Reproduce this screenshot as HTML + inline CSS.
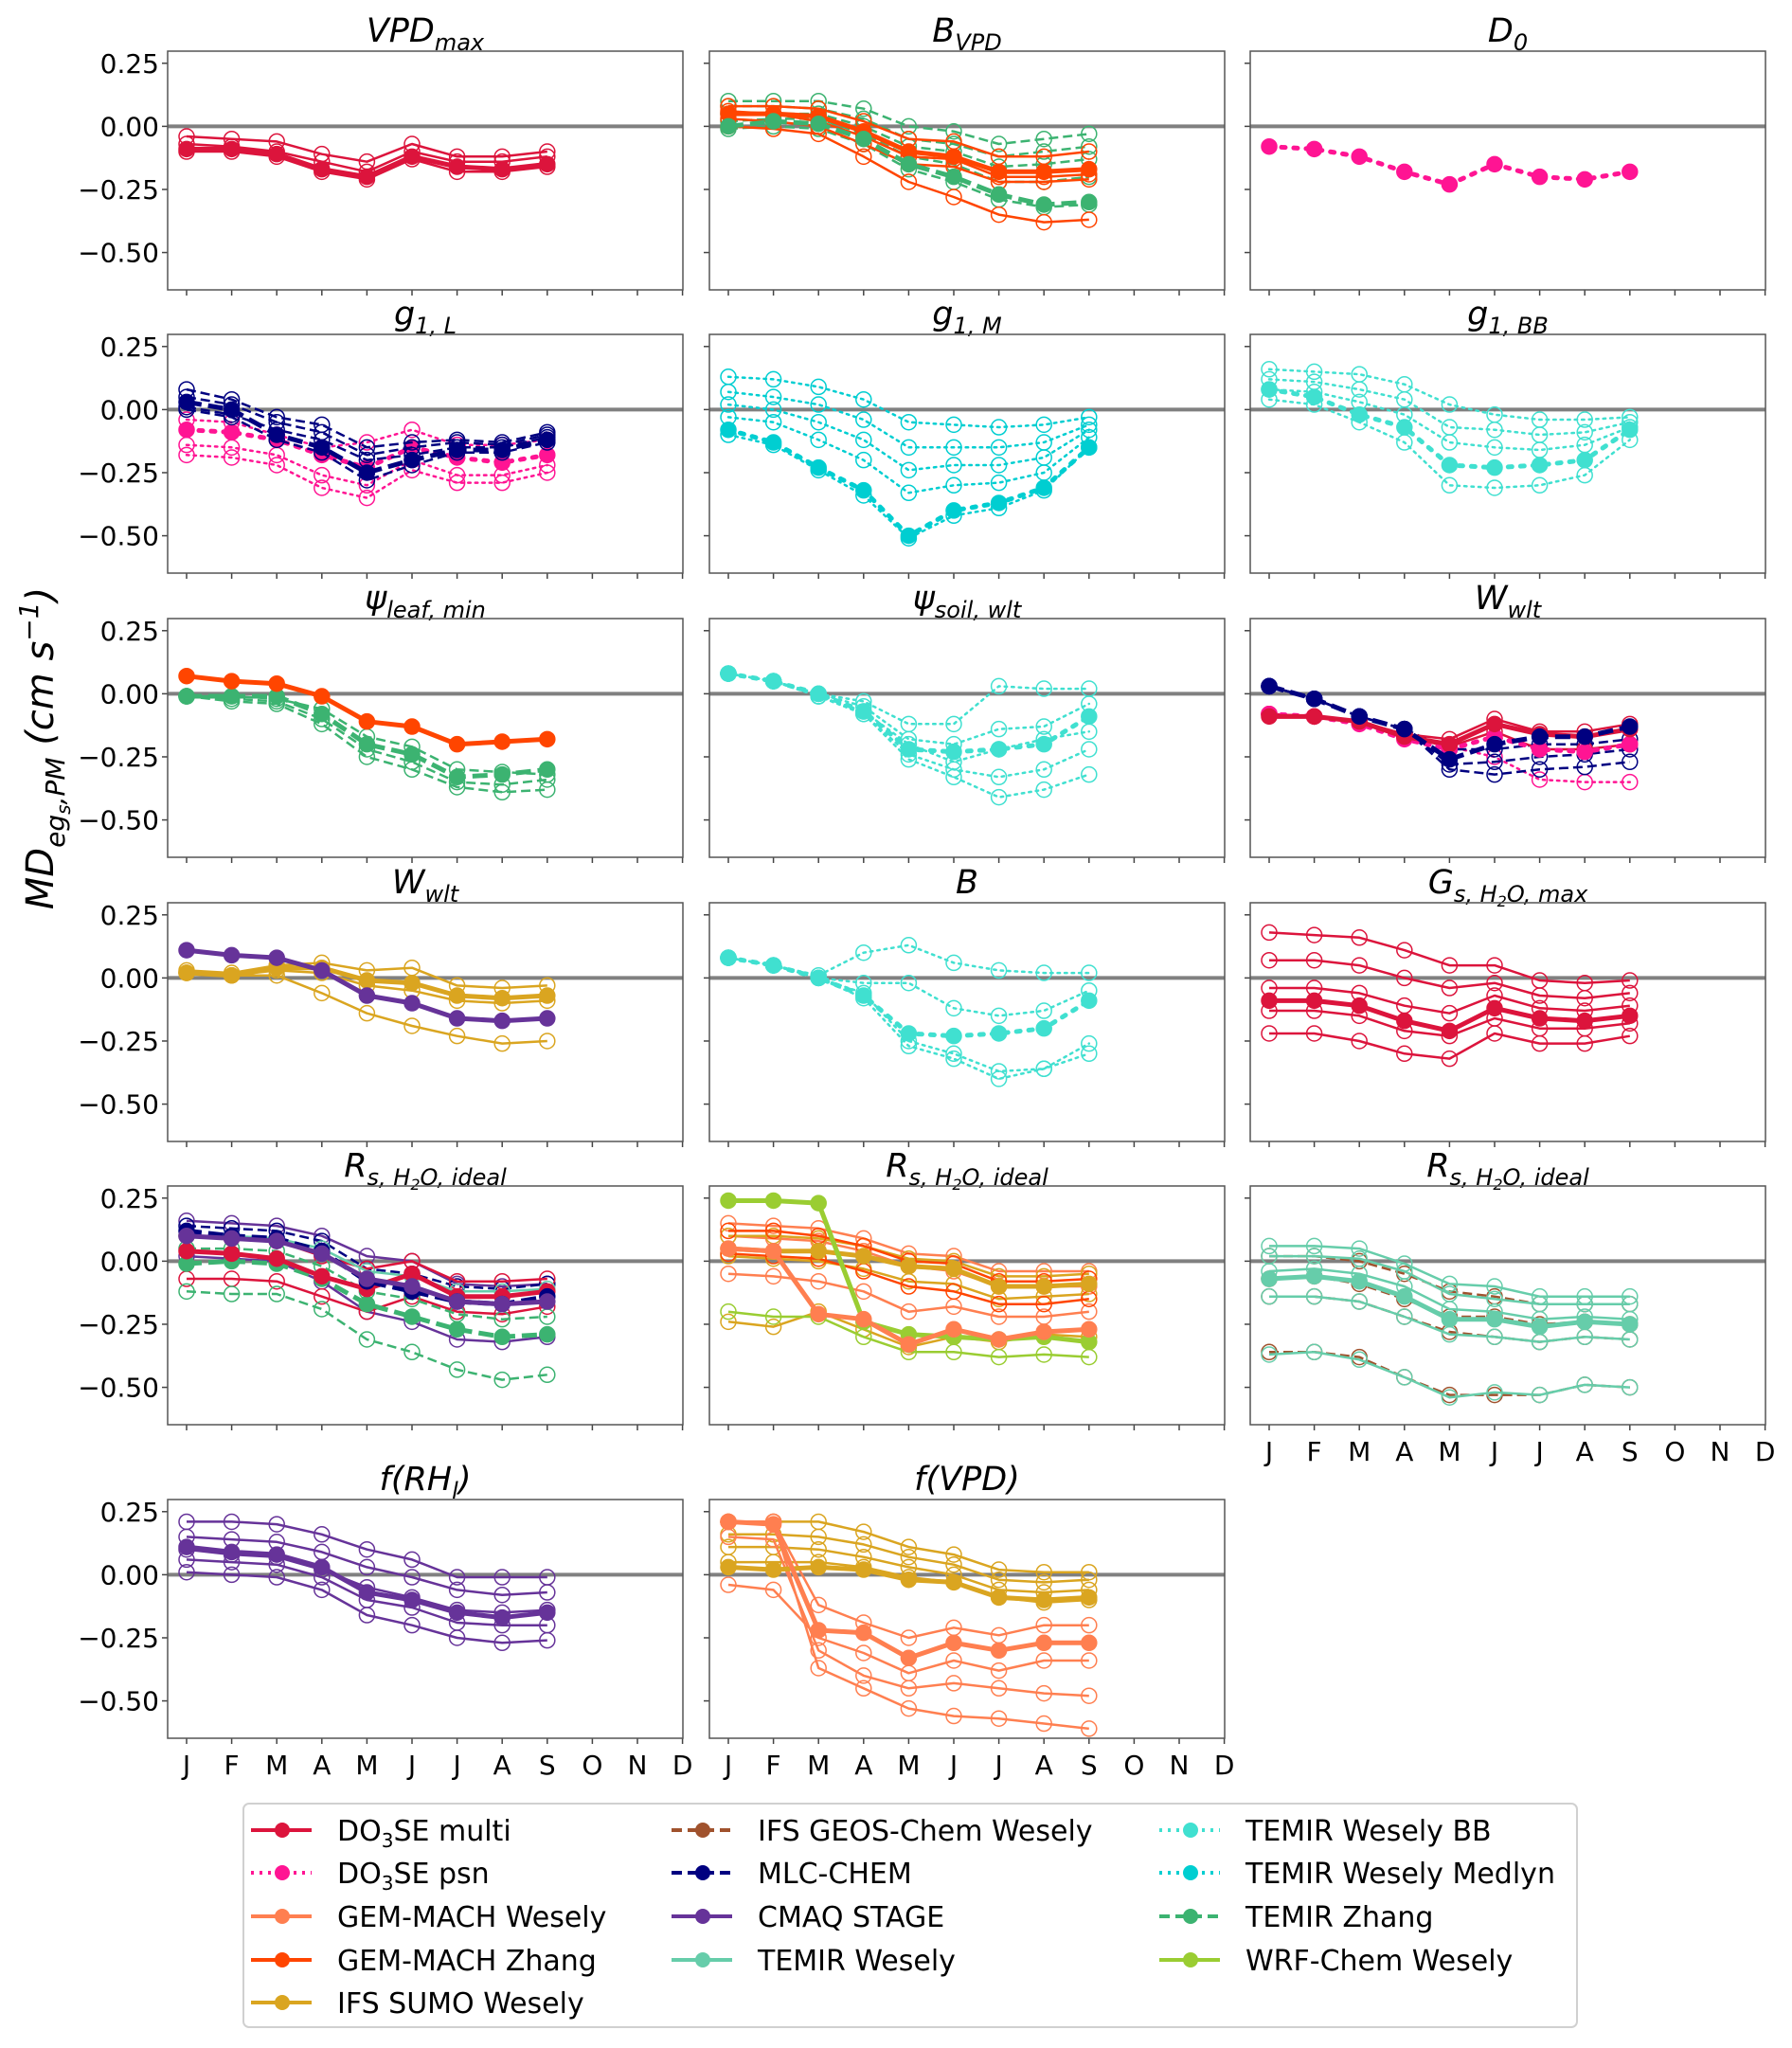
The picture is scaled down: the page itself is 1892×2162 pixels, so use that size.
<!DOCTYPE html>
<html><head><meta charset="utf-8">
<style>
html,body{margin:0;padding:0;background:#fff;}
svg{display:block;font-family:"DejaVu Sans","Liberation Sans",sans-serif;}
</style></head>
<body>
<svg id="fig" width="1892" height="2162" viewBox="0 0 1892 2162" xmlns="http://www.w3.org/2000/svg">
<text transform="translate(56,790) rotate(-90)" text-anchor="middle" font-size="40" font-style="italic">MD<tspan font-size="28" dy="12">eg</tspan><tspan font-size="20" dy="6">s</tspan><tspan font-size="28" dy="-6">,PM</tspan><tspan dy="-12"> (cm s</tspan><tspan font-size="28" dy="-16">−1</tspan><tspan dy="16">)</tspan></text>
</svg>
<script>
// ---- data ----
const months = ['J','F','M','A','M','J','J','A','S','O','N','D'];
const yTicks = [0.25, 0, -0.25, -0.5];
const yTickLabels = ['0.25','0.00','−0.25','−0.50'];

const vpdmax_b = [-0.09,-0.09,-0.11,-0.17,-0.2,-0.12,-0.16,-0.17,-0.15];
const vpdmax_1 = [-0.04,-0.05,-0.06,-0.11,-0.14,-0.07,-0.12,-0.12,-0.1];
const vpdmax_2 = [-0.07,-0.08,-0.1,-0.14,-0.18,-0.1,-0.14,-0.14,-0.12];
const vpdmax_3 = [-0.1,-0.1,-0.12,-0.18,-0.21,-0.13,-0.18,-0.18,-0.16];

const bvpd_gb = [0,0.02,0.01,-0.05,-0.15,-0.2,-0.27,-0.31,-0.3];
const bvpd_g1 = [0.1,0.1,0.1,0.07,0,-0.02,-0.07,-0.05,-0.03];
const bvpd_g2 = [0.08,0.08,0.07,0.03,-0.05,-0.07,-0.12,-0.1,-0.08];
const bvpd_g3 = [0.05,0.05,0.05,0,-0.08,-0.1,-0.16,-0.15,-0.13];
const bvpd_g4 = [0.02,0.03,0.03,-0.03,-0.12,-0.15,-0.22,-0.22,-0.2];
const bvpd_g5 = [-0.01,0,-0.01,-0.07,-0.17,-0.22,-0.29,-0.32,-0.31];
const bvpd_ob = [0.05,0.05,0.04,-0.02,-0.1,-0.12,-0.18,-0.18,-0.17];
const bvpd_o1 = [0.08,0.08,0.07,0.02,-0.05,-0.06,-0.12,-0.12,-0.1];
const bvpd_o2 = [0.03,0.02,0,-0.07,-0.15,-0.16,-0.22,-0.22,-0.21];
const bvpd_o3 = [0,-0.01,-0.03,-0.12,-0.22,-0.28,-0.35,-0.38,-0.37];
const bvpd_o4 = [0.06,0.05,0.02,-0.04,-0.12,-0.13,-0.2,-0.2,-0.19];

const d0_b = [-0.08,-0.09,-0.12,-0.18,-0.23,-0.15,-0.2,-0.21,-0.18];

const g1l_nb = [0.03,0,-0.1,-0.15,-0.25,-0.2,-0.16,-0.16,-0.12];
const g1l_n1 = [0.08,0.04,-0.03,-0.06,-0.15,-0.13,-0.12,-0.13,-0.09];
const g1l_n2 = [0.05,0.02,-0.05,-0.09,-0.18,-0.15,-0.13,-0.14,-0.1];
const g1l_n3 = [0.01,-0.02,-0.08,-0.12,-0.2,-0.18,-0.15,-0.15,-0.11];
const g1l_n4 = [0,-0.03,-0.12,-0.17,-0.28,-0.22,-0.17,-0.17,-0.13];
const g1l_pb = [-0.08,-0.09,-0.12,-0.18,-0.23,-0.15,-0.19,-0.21,-0.18];
const g1l_p1 = [-0.04,-0.05,-0.1,-0.15,-0.13,-0.08,-0.14,-0.14,-0.12];
const g1l_p2 = [-0.14,-0.15,-0.18,-0.26,-0.3,-0.2,-0.26,-0.26,-0.22];
const g1l_p3 = [-0.18,-0.19,-0.22,-0.31,-0.35,-0.24,-0.29,-0.29,-0.25];

const g1m_b = [-0.08,-0.13,-0.23,-0.32,-0.5,-0.4,-0.37,-0.31,-0.15];
const g1m_1 = [0.13,0.12,0.09,0.04,-0.05,-0.06,-0.07,-0.06,-0.03];
const g1m_2 = [0.07,0.05,0.02,-0.04,-0.15,-0.15,-0.15,-0.13,-0.06];
const g1m_3 = [0.02,0,-0.05,-0.12,-0.24,-0.22,-0.22,-0.19,-0.08];
const g1m_4 = [-0.03,-0.05,-0.12,-0.2,-0.33,-0.3,-0.29,-0.25,-0.11];
const g1m_5 = [-0.1,-0.14,-0.24,-0.34,-0.51,-0.42,-0.39,-0.32,-0.15];

const g1bb_b = [0.08,0.05,-0.02,-0.07,-0.22,-0.23,-0.22,-0.2,-0.08];
const g1bb_1 = [0.16,0.15,0.14,0.1,0.02,-0.02,-0.04,-0.04,-0.03];
const g1bb_2 = [0.12,0.11,0.08,0.04,-0.07,-0.08,-0.1,-0.09,-0.05];
const g1bb_3 = [0.08,0.07,0.03,-0.02,-0.13,-0.15,-0.16,-0.14,-0.07];
const g1bb_4 = [0.04,0.02,-0.05,-0.13,-0.3,-0.31,-0.3,-0.26,-0.12];

const psil_ob = [0.07,0.05,0.04,-0.01,-0.11,-0.13,-0.2,-0.19,-0.18];
const psil_gb = [-0.01,-0.01,-0.01,-0.08,-0.2,-0.24,-0.33,-0.32,-0.3];
const psil_g1 = [-0.01,-0.02,-0.03,-0.1,-0.22,-0.27,-0.35,-0.36,-0.34];
const psil_g2 = [-0.01,-0.03,-0.04,-0.12,-0.25,-0.3,-0.37,-0.39,-0.38];
const psil_g3 = [-0.01,-0.01,-0.02,-0.06,-0.17,-0.21,-0.3,-0.31,-0.32];

const psis_b = [0.08,0.05,0,-0.07,-0.22,-0.23,-0.22,-0.2,-0.09];
const psis_1 = [0.08,0.05,0,-0.03,-0.12,-0.12,0.03,0.02,0.02];
const psis_2 = [0.08,0.05,0,-0.05,-0.18,-0.2,-0.14,-0.13,-0.04];
const psis_3 = [0.08,0.05,-0.01,-0.07,-0.2,-0.27,-0.22,-0.18,-0.15];
const psis_4 = [0.08,0.05,-0.01,-0.08,-0.24,-0.3,-0.33,-0.3,-0.22];
const psis_5 = [0.08,0.05,-0.01,-0.08,-0.26,-0.33,-0.41,-0.38,-0.32];

const wwlt3_nb = [0.03,-0.02,-0.09,-0.14,-0.26,-0.2,-0.17,-0.17,-0.13];
const wwlt3_n1 = [0.03,-0.02,-0.09,-0.14,-0.3,-0.32,-0.3,-0.29,-0.27];
const wwlt3_n2 = [0.03,-0.02,-0.09,-0.14,-0.28,-0.27,-0.25,-0.24,-0.22];
const wwlt3_n3 = [0.03,-0.02,-0.09,-0.14,-0.22,-0.22,-0.2,-0.2,-0.18];
const wwlt3_cb = [-0.09,-0.09,-0.11,-0.17,-0.2,-0.12,-0.16,-0.17,-0.14];
const wwlt3_c1 = [-0.08,-0.09,-0.11,-0.16,-0.18,-0.1,-0.15,-0.15,-0.12];
const wwlt3_c2 = [-0.08,-0.09,-0.11,-0.17,-0.21,-0.15,-0.22,-0.22,-0.2];
const wwlt3_p1 = [-0.08,-0.09,-0.11,-0.17,-0.21,-0.25,-0.34,-0.35,-0.35];
const wwlt3_pb = [-0.08,-0.09,-0.12,-0.18,-0.22,-0.17,-0.22,-0.23,-0.2];

const wwlt1_pb = [0.11,0.09,0.08,0.03,-0.07,-0.1,-0.16,-0.17,-0.16];
const wwlt1_yb = [0.02,0.01,0.04,0.04,-0.01,-0.02,-0.07,-0.08,-0.07];
const wwlt1_y1 = [0.03,0.02,0.05,0.06,0.03,0.04,-0.03,-0.04,-0.03];
const wwlt1_y2 = [0.02,0.01,0.03,0.02,-0.03,-0.05,-0.09,-0.1,-0.09];
const wwlt1_y3 = [0.02,0.01,0.01,-0.06,-0.14,-0.19,-0.23,-0.26,-0.25];

const b_b = [0.08,0.05,0,-0.07,-0.22,-0.23,-0.22,-0.2,-0.09];
const b_1 = [0.08,0.05,0.01,0.1,0.13,0.06,0.03,0.02,0.02];
const b_2 = [0.08,0.05,0,-0.02,-0.02,-0.12,-0.15,-0.13,-0.05];
const b_3 = [0.08,0.05,0,-0.06,-0.25,-0.3,-0.37,-0.36,-0.26];
const b_4 = [0.08,0.05,0,-0.08,-0.27,-0.32,-0.4,-0.36,-0.3];

const gs_b = [-0.09,-0.09,-0.11,-0.17,-0.21,-0.12,-0.16,-0.17,-0.15];
const gs_1 = [0.18,0.17,0.16,0.11,0.05,0.05,-0.01,-0.02,-0.01];
const gs_2 = [0.07,0.07,0.05,0,-0.04,-0.02,-0.07,-0.08,-0.06];
const gs_3 = [-0.04,-0.04,-0.06,-0.11,-0.14,-0.07,-0.12,-0.13,-0.11];
const gs_4 = [-0.13,-0.13,-0.15,-0.21,-0.23,-0.16,-0.2,-0.2,-0.18];
const gs_5 = [-0.22,-0.22,-0.25,-0.3,-0.32,-0.22,-0.26,-0.26,-0.23];

const rs1_pb = [0.1,0.09,0.08,0.03,-0.07,-0.1,-0.16,-0.17,-0.16];
const rs1_p1 = [0.16,0.15,0.14,0.1,0.02,0,-0.09,-0.1,-0.09];
const rs1_p2 = [0.02,0.01,0,-0.08,-0.2,-0.24,-0.31,-0.32,-0.3];
const rs1_nb = [0.12,0.1,0.09,0.04,-0.08,-0.12,-0.16,-0.17,-0.14];
const rs1_n1 = [0.14,0.13,0.12,0.08,-0.03,-0.05,-0.1,-0.11,-0.09];
const rs1_cb = [0.04,0.03,0.01,-0.06,-0.11,-0.05,-0.14,-0.14,-0.12];
const rs1_c1 = [0.1,0.09,0.08,0.02,-0.03,0,-0.08,-0.08,-0.07];
const rs1_c2 = [-0.07,-0.07,-0.08,-0.14,-0.2,-0.14,-0.2,-0.21,-0.18];
const rs1_gb = [-0.01,0,-0.01,-0.07,-0.17,-0.22,-0.27,-0.3,-0.29];
const rs1_g1 = [-0.12,-0.13,-0.13,-0.19,-0.31,-0.36,-0.43,-0.47,-0.45];
const rs1_g2 = [0.05,0.05,0.04,-0.02,-0.12,-0.15,-0.21,-0.23,-0.22];
const rs1_a1 = [0.1,0.1,0.09,0.05,-0.04,-0.06,-0.12,-0.12,-0.11];

const rs2_cb = [0.05,0.04,-0.21,-0.23,-0.33,-0.27,-0.31,-0.28,-0.27];
const rs2_wb = [0.24,0.24,0.23,-0.24,-0.29,-0.3,-0.31,-0.3,-0.32];
const rs2_yb = [0.05,0.04,0.04,0.02,-0.02,-0.03,-0.1,-0.1,-0.09];
const rs2_c1 = [0.15,0.14,0.13,0.09,0.03,0.02,-0.04,-0.04,-0.04];
const rs2_c2 = [0.1,0.09,0.08,0.04,-0.02,-0.04,-0.1,-0.1,-0.1];
const rs2_c3 = [-0.05,-0.06,-0.08,-0.12,-0.2,-0.18,-0.22,-0.22,-0.2];
const rs2_y1 = [-0.24,-0.26,-0.2,-0.27,-0.34,-0.3,-0.32,-0.29,-0.3];
const rs2_y2 = [0.1,0.1,0.09,0.06,0.01,0,-0.06,-0.06,-0.05];
const rs2_y3 = [0.02,0.01,0,-0.03,-0.08,-0.09,-0.15,-0.14,-0.13];
const rs2_w1 = [-0.2,-0.22,-0.22,-0.3,-0.36,-0.36,-0.38,-0.37,-0.38];
const rs2_o1 = [0.12,0.12,0.1,0.06,0,-0.01,-0.08,-0.08,-0.07];
const rs2_o2 = [0.03,0.02,0.01,-0.04,-0.1,-0.12,-0.17,-0.17,-0.15];

const rs3_b = [-0.07,-0.06,-0.08,-0.14,-0.23,-0.23,-0.26,-0.24,-0.25];
const rs3_1 = [0.06,0.06,0.05,-0.01,-0.09,-0.1,-0.14,-0.14,-0.14];
const rs3_2 = [0.02,0.02,0.01,-0.04,-0.13,-0.15,-0.17,-0.17,-0.17];
const rs3_3 = [-0.04,-0.03,-0.05,-0.1,-0.19,-0.2,-0.23,-0.22,-0.23];
const rs3_4 = [-0.14,-0.14,-0.16,-0.22,-0.29,-0.3,-0.32,-0.3,-0.31];
const rs3_5 = [-0.37,-0.36,-0.39,-0.46,-0.54,-0.52,-0.53,-0.49,-0.5];
const rs3_s1 = [0.02,0.02,0,-0.05,-0.12,-0.14,-0.17,-0.17,-0.17];
const rs3_s2 = [-0.14,-0.14,-0.16,-0.22,-0.28,-0.3,-0.32,-0.3,-0.31];
const rs3_s3 = [-0.36,-0.36,-0.38,-0.46,-0.53,-0.53,-0.53,-0.49,-0.5];
const rs3_s4 = [-0.07,-0.06,-0.09,-0.15,-0.22,-0.22,-0.25,-0.24,-0.25];

const frh_b = [0.11,0.09,0.08,0.03,-0.07,-0.1,-0.15,-0.17,-0.15];
const frh_1 = [0.21,0.21,0.2,0.16,0.1,0.06,-0.01,-0.01,-0.01];
const frh_2 = [0.15,0.14,0.13,0.09,0.03,-0.01,-0.06,-0.08,-0.07];
const frh_3 = [0.06,0.05,0.04,-0.01,-0.1,-0.13,-0.19,-0.2,-0.2];
const frh_4 = [0.01,0,-0.01,-0.06,-0.16,-0.2,-0.25,-0.27,-0.26];
const frh_5 = [0.1,0.08,0.07,0.02,-0.05,-0.09,-0.14,-0.15,-0.14];

const fvpd_yb = [0.03,0.02,0.03,0.02,-0.02,-0.03,-0.09,-0.1,-0.09];
const fvpd_cb = [0.21,0.2,-0.22,-0.23,-0.33,-0.27,-0.3,-0.27,-0.27];
const fvpd_y1 = [0.21,0.21,0.21,0.17,0.11,0.08,0.02,0.01,0.01];
const fvpd_y2 = [0.16,0.16,0.15,0.12,0.07,0.04,-0.02,-0.03,-0.02];
const fvpd_y3 = [0.11,0.11,0.1,0.07,0.03,0,-0.06,-0.07,-0.06];
const fvpd_y4 = [0.05,0.05,0.05,0.03,-0.01,-0.03,-0.09,-0.11,-0.1];
const fvpd_c1 = [0.21,0.21,-0.12,-0.19,-0.25,-0.21,-0.24,-0.2,-0.2];
const fvpd_c2 = [-0.04,-0.06,-0.25,-0.31,-0.39,-0.34,-0.38,-0.34,-0.34];
const fvpd_c3 = [0.21,0.21,-0.37,-0.45,-0.53,-0.56,-0.57,-0.59,-0.61];
const fvpd_c4 = [0.15,0.14,-0.3,-0.4,-0.45,-0.43,-0.45,-0.47,-0.48];

// ---- styles ----
const models = {
 'DO3SE multi':['#DC143C','solid'],
 'DO3SE psn':['#FF1493','dot'],
 'GEM-MACH Wesely':['#FF7F50','solid'],
 'GEM-MACH Zhang':['#FF4500','solid'],
 'IFS SUMO Wesely':['#DAA520','solid'],
 'IFS GEOS-Chem Wesely':['#A0522D','dash'],
 'MLC-CHEM':['#000080','dash'],
 'CMAQ STAGE':['#663399','solid'],
 'TEMIR Wesely':['#66CDAA','solid'],
 'TEMIR Wesely BB':['#40E0D0','dot'],
 'TEMIR Wesely Medlyn':['#00CED1','dot'],
 'TEMIR Zhang':['#3CB371','dash'],
 'WRF-Chem Wesely':['#9ACD32','solid']
};
const legendOrder = ['DO3SE multi','DO3SE psn','GEM-MACH Wesely','GEM-MACH Zhang','IFS SUMO Wesely','IFS GEOS-Chem Wesely','MLC-CHEM','CMAQ STAGE','TEMIR Wesely','TEMIR Wesely BB','TEMIR Wesely Medlyn','TEMIR Zhang','WRF-Chem Wesely'];

const sub = (t)=>'<tspan font-size="24" dy="9">'+t+'</tspan>';
const panels = [
 {r:0,c:0,name:'vpdmax',t:'VPD'+sub('max'),s:[['DO3SE multi',vpdmax_1,0],['DO3SE multi',vpdmax_2,0],['DO3SE multi',vpdmax_3,0],['DO3SE multi',vpdmax_b,1]]},
 {r:0,c:1,name:'bvpd',t:'B'+sub('VPD'),s:[['TEMIR Zhang',bvpd_g1,0],['TEMIR Zhang',bvpd_g2,0],['TEMIR Zhang',bvpd_g3,0],['TEMIR Zhang',bvpd_g4,0],['TEMIR Zhang',bvpd_g5,0],['GEM-MACH Zhang',bvpd_o1,0],['GEM-MACH Zhang',bvpd_o2,0],['GEM-MACH Zhang',bvpd_o3,0],['GEM-MACH Zhang',bvpd_o4,0],['GEM-MACH Zhang',bvpd_ob,1],['TEMIR Zhang',bvpd_gb,1]]},
 {r:0,c:2,name:'d0',t:'D'+sub('0'),s:[['DO3SE psn',d0_b,1]]},
 {r:1,c:0,name:'g1l',t:'g'+sub('1, L'),s:[['DO3SE psn',g1l_p1,0],['DO3SE psn',g1l_p2,0],['DO3SE psn',g1l_p3,0],['DO3SE psn',g1l_pb,1],['MLC-CHEM',g1l_n1,0],['MLC-CHEM',g1l_n2,0],['MLC-CHEM',g1l_n3,0],['MLC-CHEM',g1l_n4,0],['MLC-CHEM',g1l_nb,1]]},
 {r:1,c:1,name:'g1m',t:'g'+sub('1, M'),s:[['TEMIR Wesely Medlyn',g1m_1,0],['TEMIR Wesely Medlyn',g1m_2,0],['TEMIR Wesely Medlyn',g1m_3,0],['TEMIR Wesely Medlyn',g1m_4,0],['TEMIR Wesely Medlyn',g1m_5,0],['TEMIR Wesely Medlyn',g1m_b,1]]},
 {r:1,c:2,name:'g1bb',t:'g'+sub('1, BB'),s:[['TEMIR Wesely BB',g1bb_1,0],['TEMIR Wesely BB',g1bb_2,0],['TEMIR Wesely BB',g1bb_3,0],['TEMIR Wesely BB',g1bb_4,0],['TEMIR Wesely BB',g1bb_b,1]]},
 {r:2,c:0,name:'psi-leaf',t:'ψ'+sub('leaf, min'),s:[['TEMIR Zhang',psil_g1,0],['TEMIR Zhang',psil_g2,0],['TEMIR Zhang',psil_g3,0],['TEMIR Zhang',psil_gb,1],['GEM-MACH Zhang',psil_ob,1]]},
 {r:2,c:1,name:'psi-soil',t:'ψ'+sub('soil, wlt'),s:[['TEMIR Wesely BB',psis_1,0],['TEMIR Wesely BB',psis_2,0],['TEMIR Wesely BB',psis_3,0],['TEMIR Wesely BB',psis_4,0],['TEMIR Wesely BB',psis_5,0],['TEMIR Wesely BB',psis_b,1]]},
 {r:2,c:2,name:'wwlt-a',t:'W'+sub('wlt'),s:[['DO3SE psn',wwlt3_p1,0],['MLC-CHEM',wwlt3_n1,0],['MLC-CHEM',wwlt3_n2,0],['MLC-CHEM',wwlt3_n3,0],['DO3SE multi',wwlt3_c1,0],['DO3SE multi',wwlt3_c2,0],['DO3SE psn',wwlt3_pb,1],['DO3SE multi',wwlt3_cb,1],['MLC-CHEM',wwlt3_nb,1]]},
 {r:3,c:0,name:'wwlt-b',t:'W'+sub('wlt'),s:[['IFS SUMO Wesely',wwlt1_y1,0],['IFS SUMO Wesely',wwlt1_y2,0],['IFS SUMO Wesely',wwlt1_y3,0],['IFS SUMO Wesely',wwlt1_yb,1],['CMAQ STAGE',wwlt1_pb,1]]},
 {r:3,c:1,name:'b',t:'B',s:[['TEMIR Wesely BB',b_1,0],['TEMIR Wesely BB',b_2,0],['TEMIR Wesely BB',b_3,0],['TEMIR Wesely BB',b_4,0],['TEMIR Wesely BB',b_b,1]]},
 {r:3,c:2,name:'gsmax',t:'G'+sub('s, H<tspan font-size="16" dy="5">2</tspan><tspan dy="-5">O, max</tspan>'),s:[['DO3SE multi',gs_1,0],['DO3SE multi',gs_2,0],['DO3SE multi',gs_3,0],['DO3SE multi',gs_4,0],['DO3SE multi',gs_5,0],['DO3SE multi',gs_b,1]]},
 {r:4,c:0,name:'rs-a',t:'R'+sub('s, H<tspan font-size="16" dy="5">2</tspan><tspan dy="-5">O, ideal</tspan>'),s:[['CMAQ STAGE',rs1_p1,0],['CMAQ STAGE',rs1_p2,0],['MLC-CHEM',rs1_n1,0],['DO3SE multi',rs1_c1,0],['DO3SE multi',rs1_c2,0],['TEMIR Zhang',rs1_g1,0],['TEMIR Zhang',rs1_g2,0],['TEMIR Wesely',rs1_a1,0],['TEMIR Zhang',rs1_gb,1],['DO3SE multi',rs1_cb,1],['MLC-CHEM',rs1_nb,1],['CMAQ STAGE',rs1_pb,1]]},
 {r:4,c:1,name:'rs-b',t:'R'+sub('s, H<tspan font-size="16" dy="5">2</tspan><tspan dy="-5">O, ideal</tspan>'),s:[['GEM-MACH Wesely',rs2_c1,0],['GEM-MACH Wesely',rs2_c2,0],['GEM-MACH Wesely',rs2_c3,0],['IFS SUMO Wesely',rs2_y1,0],['IFS SUMO Wesely',rs2_y2,0],['IFS SUMO Wesely',rs2_y3,0],['WRF-Chem Wesely',rs2_w1,0],['GEM-MACH Zhang',rs2_o1,0],['GEM-MACH Zhang',rs2_o2,0],['IFS SUMO Wesely',rs2_yb,1],['WRF-Chem Wesely',rs2_wb,1],['GEM-MACH Wesely',rs2_cb,1]]},
 {r:4,c:2,name:'rs-c',t:'R'+sub('s, H<tspan font-size="16" dy="5">2</tspan><tspan dy="-5">O, ideal</tspan>'),xl:1,s:[['IFS GEOS-Chem Wesely',rs3_s1,0],['IFS GEOS-Chem Wesely',rs3_s2,0],['IFS GEOS-Chem Wesely',rs3_s3,0],['IFS GEOS-Chem Wesely',rs3_s4,0],['TEMIR Wesely',rs3_1,0],['TEMIR Wesely',rs3_2,0],['TEMIR Wesely',rs3_3,0],['TEMIR Wesely',rs3_4,0],['TEMIR Wesely',rs3_5,0],['TEMIR Wesely',rs3_b,1]]},
 {r:5,c:0,name:'frh',t:'f(RH<tspan font-size="24" dy="9">l</tspan><tspan dy="-9">)</tspan>',xl:1,s:[['CMAQ STAGE',frh_1,0],['CMAQ STAGE',frh_2,0],['CMAQ STAGE',frh_3,0],['CMAQ STAGE',frh_4,0],['CMAQ STAGE',frh_5,0],['CMAQ STAGE',frh_b,1]]},
 {r:5,c:1,name:'fvpd',t:'f(VPD)',xl:1,s:[['IFS SUMO Wesely',fvpd_y1,0],['IFS SUMO Wesely',fvpd_y2,0],['IFS SUMO Wesely',fvpd_y3,0],['IFS SUMO Wesely',fvpd_y4,0],['GEM-MACH Wesely',fvpd_c1,0],['GEM-MACH Wesely',fvpd_c2,0],['GEM-MACH Wesely',fvpd_c3,0],['GEM-MACH Wesely',fvpd_c4,0],['IFS SUMO Wesely',fvpd_yb,1],['GEM-MACH Wesely',fvpd_cb,1]]}
];

// ---- layout ----
const NS='http://www.w3.org/2000/svg';
const svg=document.getElementById('fig');
const colX=[177,749,1320], rowY=[54,353,653,953,1252,1583], PW=544, PH=252;
const YMAX=0.298, YMIN=-0.648;
function mk(tag,attrs,parent){const e=document.createElementNS(NS,tag);for(const k in attrs)e.setAttribute(k,attrs[k]);(parent||svg).appendChild(e);return e;}
function xS(p,i){return colX[p.c]+20+i*47.6;}
function yS(p,v){return rowY[p.r]+(YMAX-v)/(YMAX-YMIN)*PH;}
function dashFor(style,bold){if(style==='dot')return bold?'4,9':'2.5,5';if(style==='dash')return bold?'16,7':'10,5';return null;}

panels.forEach(p=>{
  const g=mk('g',{});
  
  
  const L=colX[p.c], T=rowY[p.r];
  const t=mk('text',{x:L+PW/2,y:T-10,'text-anchor':'middle','font-size':35,'font-style':'italic'},g);
  
  
  t.innerHTML=p.t;
  const z=mk('line',{x1:L,x2:L+PW,y1:yS(p,0),y2:yS(p,0),stroke:'#808080','stroke-width':4},g);
  
  
  yTicks.forEach((v,k)=>{
    const y=yS(p,v);
    const tk=mk('line',{x1:L-6,x2:L,y1:y,y2:y,stroke:'#444','stroke-width':1.5},g);
    
    
    if(p.c===0){
      const tl=mk('text',{x:L-9,y:y+10,'text-anchor':'end','font-size':28},g);
      
      
      tl.textContent=yTickLabels[k];
    }
  });
  months.forEach((m,i)=>{
    const x=xS(p,i);
    const tk=mk('line',{x1:x,x2:x,y1:T+PH,y2:T+PH+6,stroke:'#444','stroke-width':1.5},g);
    
    
    if(p.xl){
      const tl=mk('text',{x:x,y:T+PH+38,'text-anchor':'middle','font-size':28},g);
      
      
      tl.textContent=m;
    }
  });
  p.s.forEach(([model,vals,bold])=>{
    const [col,st]=models[model];
    const pts=vals.map((v,i)=>xS(p,i).toFixed(1)+','+yS(p,v).toFixed(1)).join(' ');
    const sg=mk('g',{},g);
    
    
    const pl=mk('polyline',{points:pts,fill:'none',stroke:col,'stroke-width':bold?5:2.5,'stroke-linejoin':'round'},sg);
    const d=dashFor(st,bold); if(d)pl.setAttribute('stroke-dasharray',d);
    if(st==='dot')pl.setAttribute('stroke-linecap','round');
    
    
    vals.forEach((v,i)=>{
      const c=mk('circle',{cx:xS(p,i),cy:yS(p,v),r:8,fill:bold?col:'none',stroke:col,'stroke-width':1.5},sg);
      
      
    });
  });
  const fr=mk('rect',{x:L,y:T,width:PW,height:PH,fill:'none',stroke:'#555','stroke-width':1.5},g);
  
  
});

// ---- legend ----
const lg=mk('g',{});


const lbox=mk('rect',{x:257,y:1904,width:1408,height:236,rx:6,fill:'#fff',stroke:'#d0d0d0','stroke-width':2},lg);


const lcolX=[265,709,1224], lrowY=[1932,1977,2023,2069,2114];
const perCol=[5,4,4];
let idx=0;
perCol.forEach((n,ci)=>{
  for(let ri=0;ri<n;ri++){
    const name=legendOrder[idx++];
    const [col,st]=models[name];
    const x0=lcolX[ci], y0=lrowY[ri];
    const eg=mk('g',{},lg);
    
    
    const ln=mk('line',{x1:x0,x2:x0+64,y1:y0,y2:y0,stroke:col,'stroke-width':4},eg);
    const d=dashFor(st,false); if(d){ln.setAttribute('stroke-dasharray',st==='dot'?'3,6':'11,6');}
    mk('circle',{cx:x0+33,cy:y0,r:8,fill:col},eg);
    const tx=mk('text',{x:x0+91,y:y0+11,'font-size':30},eg);
    
    
    if(name.startsWith('DO3SE')){tx.innerHTML='DO<tspan font-size="20" dy="7">3</tspan><tspan dy="-7">SE'+name.slice(5)+'</tspan>';}
    else tx.textContent=name;
  }
});
</script>
</body></html>
